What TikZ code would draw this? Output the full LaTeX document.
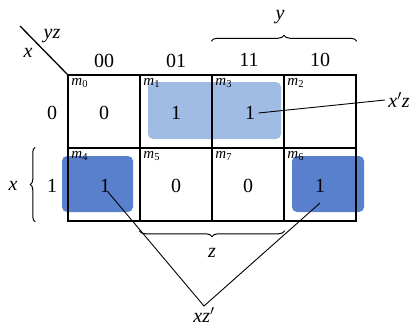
\documentclass[tikz,border=0pt]{standalone}
\usepackage{fontspec}
\setmainfont{Liberation Serif}
\usetikzlibrary{positioning,calc,decorations.pathreplacing}
\definecolor{mapblue}{RGB}{88,128,204}
\definecolor{mapblight}{RGB}{160,187,228}

\begin{document}
\begin{tikzpicture}[x=1pt,y=-1pt,every node/.style={font=\fontsize{20}{23}\selectfont},
    cell/.style={draw,line width=1.5pt,minimum width=72pt,minimum height=73pt,inner sep=0pt},
    mlab/.style={font=\fontsize{15}{16}\selectfont,inner sep=0pt,anchor=north west},
    group/.style={rounded corners=5pt,inner sep=0pt},
    brace/.style={decorate,decoration={brace,amplitude=6pt},line width=1pt}]
    \useasboundingbox (0,0) rectangle (419,327);
    % groups
    \node[group,fill=mapblight,minimum width=133pt,minimum height=57pt] (g13) at (214.5,110.5) {};
    \node[group,fill=mapblue,minimum width=71pt,minimum height=56pt] (g4) at (97.5,184) {};
    \node[group,fill=mapblue,minimum width=72pt,minimum height=56pt] (g6) at (328,184) {};
    % cells
    \node[cell] (m0) at (104,111.5) {};
    \node[cell] (m1) at (176,111.5) {};
    \node[cell] (m3) at (248,111.5) {};
    \node[cell] (m2) at (320,111.5) {};
    \node[cell] (m4) at (104,184.5) {};
    \node[cell] (m5) at (176,184.5) {};
    \node[cell] (m7) at (248,184.5) {};
    \node[cell] (m6) at (320,184.5) {};
    \node[mlab] at ($(m0.north west)+(4,4)$) {\textit{m}\textsubscript{0}};
    \node[mlab] at ($(m1.north west)+(4,4)$) {\textit{m}\textsubscript{1}};
    \node[mlab] at ($(m3.north west)+(4,4)$) {\textit{m}\textsubscript{3}};
    \node[mlab] at ($(m2.north west)+(4,4)$) {\textit{m}\textsubscript{2}};
    \node[mlab] at ($(m4.north west)+(4,4)$) {\textit{m}\textsubscript{4}};
    \node[mlab] at ($(m5.north west)+(4,4)$) {\textit{m}\textsubscript{5}};
    \node[mlab] at ($(m7.north west)+(4,4)$) {\textit{m}\textsubscript{7}};
    \node[mlab] at ($(m6.north west)+(4,4)$) {\textit{m}\textsubscript{6}};
    % values
    \node (v0) at (104,113) {0};
    \node (v1) at (176,113) {1};
    \node (v3) at (250,113) {1};
    \node (v4) at (105,186) {1};
    \node (v5) at (176,186) {0};
    \node (v7) at (248,186) {0};
    \node (v6) at (320,186) {1};
    % headings
    \node (c00) at (104,61) {00};
    \node (c01) at (176,61) {01};
    \node (c11) at (249,60) {11};
    \node (c10) at (320,60) {10};
    \node (r0) at (52,113) {0};
    \node (r1) at (52,186) {1};
    \node (yz) at (52,36) {\textit{yz}};
    \node (xr) at (28,53) {\textit{x}};
    \coordinate (corner) at (20,26);
    \draw[line width=1.3pt] (corner) -- (m0.north west);
    % braces
    \draw[brace] ($(m3.north west)+(0,-33)$) -- ($(m2.north east)+(0,-33)$);
    \node (ylab) at (280,17) {\textit{y}};
    \draw[brace,decoration={amplitude=5pt}] ($(m4.south west)+(-32,0)$) -- ($(m4.north west)+(-32,0)$);
    \node (xlab) at (13,186) {\textit{x}};
    \draw[brace] ($(m7.south east)+(0,9)$) -- ($(m5.south west)+(0,9)$);
    \node (zlab) at (212,253) {\textit{z}};
    % term labels
    \node (xpz) at (399,100) {\textit{x}$'$\textit{z}};
    \node[anchor=north,inner sep=1pt] (xzp) at (204,306) {\textit{xz}$'$};
    \draw[line width=0.9pt] (v3.east) -- (xpz.west);
    \draw[line width=0.9pt] ($(v4)+(3,6)$) -- (xzp.north) -- ($(v6)+(0,17)$);
  \end{tikzpicture}
\end{document}
